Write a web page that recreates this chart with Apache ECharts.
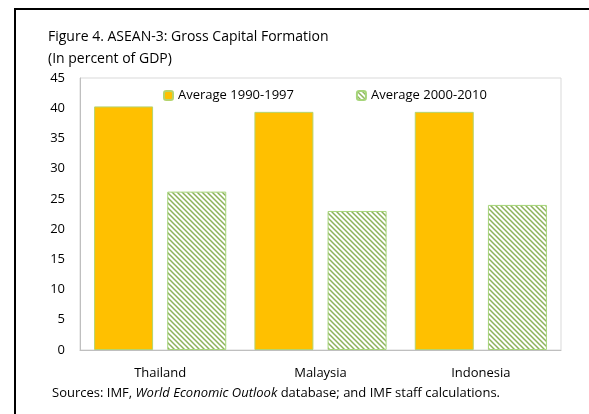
<!DOCTYPE html>
<html>
<head>
<meta charset="utf-8">
<script src="https://cdn.jsdelivr.net/npm/echarts@6/dist/echarts.min.js"></script>
<style>
  html, body { margin: 0; padding: 0; background: #fff; }
  #chart { width: 589px; height: 414px; }
</style>
</head>
<body>
<div id="chart"></div>
<script>
var categories = ["Thailand", "Malaysia", "Indonesia"];
var seriesNames = ["Average 1990-1997", "Average 2000-2010"];
var avg1990 = [40.3, 39.4, 39.4];
var avg2000 = [26.2, 23.0, 24.0];
var yTicks = { min: 0, max: 45, interval: 5 };

// hatch pattern for the second series
function makeHatch() {
  var c = document.createElement("canvas");
  c.width = 5;
  c.height = 5;
  var ctx = c.getContext("2d");
  ctx.fillStyle = "#fff";
  ctx.fillRect(0, 0, 5, 5);
  ctx.strokeStyle = "#8cb25a";
  ctx.lineWidth = 1.5;
  ctx.beginPath();
  ctx.moveTo(-1, -1);
  ctx.lineTo(6, 6);
  ctx.moveTo(-1, 4);
  ctx.lineTo(1, 6);
  ctx.moveTo(4, -1);
  ctx.lineTo(6, 1);
  ctx.stroke();
  return c;
}

var chart = echarts.init(document.getElementById("chart"));
var font = "'Open Sans', 'Noto Sans', sans-serif";

chart.setOption({
  animation: false,
  textStyle: { fontFamily: font },
  grid: {
    left: 80,
    right: 28,
    top: 78,
    bottom: 64,
    show: true,
    borderColor: "#d9d9d9",
    borderWidth: 1
  },
  legend: {
    data: seriesNames,
    top: 89,
    left: 163,
    padding: 0,
    itemWidth: 9,
    itemHeight: 9,
    itemGap: 62,
    textStyle: { fontSize: 13, color: "#000", fontFamily: font }
  },
  xAxis: {
    type: "category",
    data: categories,
    axisLine: { lineStyle: { color: "#bfbfbf" } },
    axisTick: { show: false },
    axisLabel: { fontSize: 13, color: "#000", margin: 17, fontFamily: font }
  },
  yAxis: {
    type: "value",
    min: yTicks.min,
    max: yTicks.max,
    interval: yTicks.interval,
    splitLine: { show: false },
    axisLine: { show: true, lineStyle: { color: "#bfbfbf" } },
    axisTick: { show: false },
    axisLabel: { fontSize: 13, color: "#000", margin: 15, fontFamily: font }
  },
  series: [
    {
      name: seriesNames[0],
      type: "bar",
      data: avg1990,
      barWidth: 59,
      barGap: "24%",
      itemStyle: { color: "#ffc000", borderColor: "#b5d46e", borderWidth: 1 }
    },
    {
      name: seriesNames[1],
      type: "bar",
      data: avg2000,
      barWidth: 59,
      itemStyle: {
        color: { image: makeHatch(), repeat: "repeat" },
        borderColor: "#a6d57a",
        borderWidth: 1
      }
    }
  ],
  graphic: [
    { type: "rect", shape: { x: 14, y: 8, width: 575, height: 2 }, style: { fill: "#000" } },
    { type: "rect", shape: { x: 14, y: 8, width: 2, height: 406 }, style: { fill: "#000" } },
    {
      type: "text", left: 48, top: 30,
      style: { text: "Figure 4. ASEAN-3: Gross Capital Formation", fontSize: 14, fill: "#000", fontFamily: font }
    },
    {
      type: "text", left: 48, top: 52,
      style: { text: "(In percent of GDP)", fontSize: 14, fill: "#000", fontFamily: font }
    },
    {
      type: "text", left: 52, top: 387,
      style: {
        text: "Sources: IMF, {i|World Economic Outlook} database; and IMF staff calculations.",
        fontSize: 13, fill: "#000", fontFamily: font,
        rich: { i: { fontStyle: "italic", fontSize: 13, fontFamily: font } }
      }
    }
  ]
});
</script>
</body>
</html>
